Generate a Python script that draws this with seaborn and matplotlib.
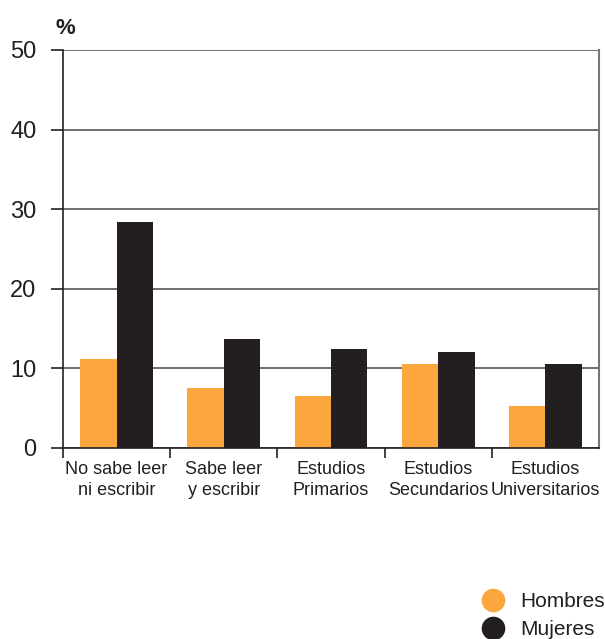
import matplotlib
matplotlib.use("Agg")
import matplotlib.pyplot as plt
from matplotlib import font_manager
from matplotlib.lines import Line2D
import seaborn as sns
import pandas as pd

categories = ["No sabe leer\nni escribir", "Sabe leer\ny escribir", "Estudios\nPrimarios",
              "Estudios\nSecundarios", "Estudios\nUniversitarios"]
hombres = [11.2, 7.5, 6.5, 10.5, 5.3]
mujeres = [28.4, 13.7, 12.4, 12.1, 10.5]
series = ["Hombres", "Mujeres"]
colors = ["#FBA73E", "#231F20"]
yticks = [0, 10, 20, 30, 40, 50]

df = pd.DataFrame({
    "cat": categories * 2,
    "sexo": [series[0]] * len(categories) + [series[1]] * len(categories),
    "valor": hombres + mujeres,
})

sns.set_theme(style="white")
available = {f.name for f in font_manager.fontManager.ttflist}
family = "Liberation Sans Narrow" if "Liberation Sans Narrow" in available else "Liberation Sans"
plt.rcParams["font.family"] = [family, "DejaVu Sans"]

fig = plt.figure(figsize=(6.05, 6.39), dpi=100)
ax = fig.add_axes([63 / 605, 1 - 448 / 639, (599 - 63) / 605, (448 - 50) / 639])

sns.barplot(data=df, x="cat", y="valor", hue="sexo", palette=colors, ax=ax,
            width=0.68, gap=0, saturation=1, legend=False, linewidth=0)

ax.set_ylim(0, 50)
ax.set_xlim(-0.5, len(categories) - 0.5)
ax.set_yticks(yticks)
ax.yaxis.grid(True, color="#555555", linewidth=1.2)
ax.set_axisbelow(True)
ax.set_xlabel("")
ax.set_ylabel("")

ax.spines["top"].set_visible(False)
ax.spines["left"].set_color("#231F20")
ax.spines["left"].set_linewidth(1.2)
ax.spines["bottom"].set_color("#231F20")
ax.spines["bottom"].set_linewidth(1.2)
ax.spines["right"].set_color("#777777")
ax.spines["right"].set_linewidth(1.5)

ax.set_xticks([i - 0.5 for i in range(len(categories))], minor=False)
ax.set_xticklabels([])
ax.set_xticks(range(len(categories)), minor=True)
ax.set_xticklabels(categories, minor=True, fontsize=13, color="#231F20", linespacing=1.35)
ax.tick_params(axis="x", which="major", length=7, width=1.2, color="#231F20", direction="out", bottom=True)
ax.tick_params(axis="x", which="minor", length=0, pad=9)
ax.tick_params(axis="y", length=9, width=1.2, color="#231F20", direction="out", left=True,
               labelsize=17, labelcolor="#231F20", pad=10)

fig.text(56 / 605, 1 - 28 / 639, "%", fontsize=16, fontweight="bold", color="#231F20",
         ha="left", va="center")

handles = [Line2D([0], [0], marker="o", linestyle="", markersize=16,
                  markerfacecolor=c, markeredgecolor=c) for c in colors]
fig.legend(handles, series, loc="lower right", bbox_to_anchor=(1.03, -0.03), frameon=False,
           fontsize=15, handletextpad=0.7, labelspacing=0.45, handlelength=1.2,
           labelcolor="#231F20")

fig.savefig("out.png", dpi=100)
